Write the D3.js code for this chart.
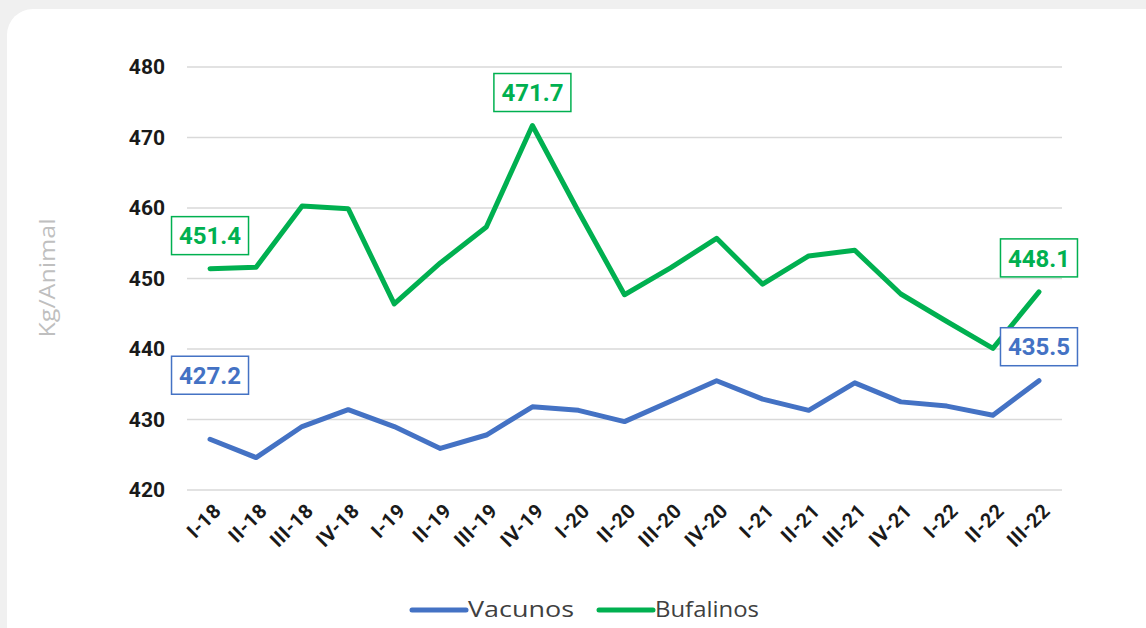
<!DOCTYPE html>
<html>
<head>
<meta charset="utf-8">
<script src="https://cdn.jsdelivr.net/npm/d3@7"></script>
<style>
  body { margin: 0; background: #f0f0f0; }
  svg { display: block; }
</style>
</head>
<body>
<svg width="1146" height="628"></svg>
<script>
var categories = ["I-18", "II-18", "III-18", "IV-18", "I-19", "II-19", "III-19", "IV-19",
    "I-20", "II-20", "III-20", "IV-20", "I-21", "II-21", "III-21", "IV-21", "I-22", "II-22", "III-22"];

var vacunos = [427.2, 424.6, 429.0, 431.4, 429.0, 425.9, 427.8, 431.8, 431.3, 429.7,
    432.6, 435.5, 432.9, 431.3, 435.2, 432.5, 431.9, 430.6, 435.5];

var bufalinos = [451.4, 451.6, 460.3, 459.9, 446.4, 452.2, 457.3, 471.7, 459.5, 447.7,
    451.5, 455.7, 449.2, 453.2, 454.0, 447.8, 443.9, 440.1, 448.1];

var yTicks = [420, 430, 440, 450, 460, 470, 480];

// which points get a boxed label: [series, index, offset above point]
var callouts = [
    ["bufalinos", 0, 33],
    ["bufalinos", 7, 33],
    ["bufalinos", 18, 34],
    ["vacunos", 0, 64],
    ["vacunos", 18, 34]
];

var svg = d3.select("svg");
var width = 1146, height = 628;

var COLORS = { vacunos: "#4472c4", bufalinos: "#00b050" };
var SERIES = { vacunos: vacunos, bufalinos: bufalinos };

// card
svg.append("rect")
    .attr("x", 7).attr("y", 9)
    .attr("width", width + 40).attr("height", height + 40)
    .attr("rx", 26).attr("ry", 26)
    .attr("fill", "#ffffff");

var margin = { left: 187, right: 84, top: 67, bottom: 138 };

var x = d3.scalePoint()
    .domain(categories)
    .range([margin.left, width - margin.right])
    .padding(0.5);

var y = d3.scaleLinear()
    .domain([420, 480])
    .range([height - margin.bottom, margin.top]);

// grid
svg.append("g")
    .attr("class", "grid")
    .selectAll("line")
    .data(yTicks)
    .enter().append("line")
    .attr("x1", margin.left)
    .attr("x2", width - margin.right)
    .attr("y1", function (d) { return y(d); })
    .attr("y2", function (d) { return y(d); })
    .attr("stroke", "#d9d9d9")
    .attr("stroke-width", 1.5);

// y axis
var yAxis = svg.append("g")
    .attr("transform", "translate(" + (margin.left - 22) + ",0)")
    .call(d3.axisLeft(y).tickValues(yTicks).tickSize(0).tickFormat(d3.format("d")));
yAxis.select(".domain").remove();
yAxis.selectAll("text")
    .attr("x", 0)
    .attr("font-family", "Roboto, 'Liberation Sans', sans-serif")
    .attr("font-weight", "bold")
    .attr("font-size", 21)
    .attr("fill", "#1a1a1a");

// x axis
var xAxis = svg.append("g")
    .attr("transform", "translate(0," + y(420) + ")")
    .call(d3.axisBottom(x).tickSize(0));
xAxis.select(".domain").remove();
xAxis.selectAll("text")
    .attr("font-family", "Roboto, 'Liberation Sans', sans-serif")
    .attr("font-weight", "bold")
    .attr("font-size", 20)
    .attr("letter-spacing", 0.5)
    .attr("fill", "#1a1a1a")
    .attr("text-anchor", "end")
    .attr("dy", null)
    .attr("y", 0)
    .attr("transform", "translate(12,22) rotate(-45)");

// axis title
svg.append("text")
    .attr("transform", "translate(55,278) rotate(-90)")
    .attr("text-anchor", "middle")
    .attr("font-family", "'Open Sans', sans-serif")
    .attr("font-size", 21)
    .attr("textLength", 119)
    .attr("lengthAdjust", "spacingAndGlyphs")
    .attr("fill", "#bfbfbf")
    .text("Kg/Animal");

// lines
var line = d3.line()
    .x(function (d, i) { return x(categories[i]); })
    .y(function (d) { return y(d); });

["vacunos", "bufalinos"].forEach(function (key) {
    svg.append("path")
        .datum(SERIES[key])
        .attr("d", line)
        .attr("fill", "none")
        .attr("stroke", COLORS[key])
        .attr("stroke-width", 5)
        .attr("stroke-linejoin", "round")
        .attr("stroke-linecap", "round");
});

// boxed labels
var boxW = 77, boxH = 38;
callouts.forEach(function (c) {
    var v = SERIES[c[0]][c[1]];
    var cx = x(categories[c[1]]);
    var cy = y(v) - c[2];
    var g = svg.append("g").attr("transform", "translate(" + cx + "," + cy + ")");
    g.append("rect")
        .attr("x", -boxW / 2).attr("y", -boxH / 2)
        .attr("width", boxW).attr("height", boxH)
        .attr("fill", "#ffffff")
        .attr("stroke", COLORS[c[0]])
        .attr("stroke-width", 1.5);
    g.append("text")
        .attr("text-anchor", "middle")
        .attr("dy", "0.36em")
        .attr("font-family", "Roboto, 'Liberation Sans', sans-serif")
        .attr("font-weight", "bold")
        .attr("font-size", 24)
        .attr("fill", COLORS[c[0]])
        .text(d3.format(".1f")(v));
});

// legend
var legend = [
    { key: "vacunos", name: "Vacunos", x: 412, w: 106 },
    { key: "bufalinos", name: "Bufalinos", x: 599, w: 104 }
];
var lg = svg.append("g").attr("transform", "translate(0,610)");
legend.forEach(function (d) {
    lg.append("line")
        .attr("x1", d.x).attr("x2", d.x + 54)
        .attr("y1", 0).attr("y2", 0)
        .attr("stroke", COLORS[d.key])
        .attr("stroke-width", 5)
        .attr("stroke-linecap", "round");
    lg.append("text")
        .attr("x", d.x + 56)
        .attr("dy", "0.35em")
        .attr("font-family", "'Open Sans', sans-serif")
        .attr("font-size", 21)
        .attr("textLength", d.w)
        .attr("lengthAdjust", "spacingAndGlyphs")
        .attr("fill", "#404040")
        .text(d.name);
});
</script>
</body>
</html>
